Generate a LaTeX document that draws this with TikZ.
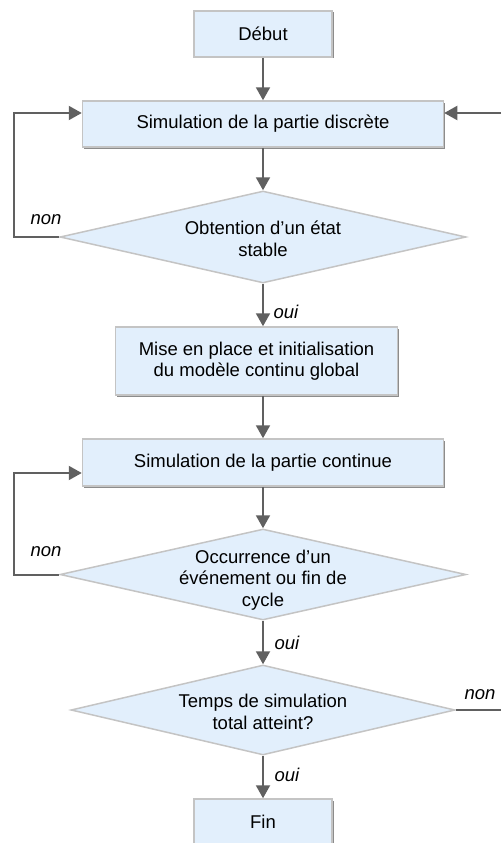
\documentclass[tikz,border=0pt]{standalone}
\usepackage{fontspec}
\setmainfont{Liberation Sans}
\usetikzlibrary{arrows.meta}
\usetikzlibrary{shapes.geometric}
\usetikzlibrary{shadows}
\definecolor{boxfill}{HTML}{E2EFFC}
\definecolor{boxborder}{HTML}{C4C4C4}
\definecolor{shadowgray}{HTML}{8C8C8C}
\definecolor{flowcolor}{HTML}{606060}
\newcommand{\chartfont}{\fontsize{18.5}{21.5}\selectfont}

\tikzset{
  process/.style={rectangle, draw=boxborder, line width=1.5pt, fill=boxfill, inner sep=0pt, align=center,
    drop shadow={fill=shadowgray, opacity=1, shadow xshift=1.5pt, shadow yshift=-1.5pt}},
  decision/.style={diamond, draw=boxborder, line width=1.5pt, fill=boxfill, inner sep=0pt},
  decisiontext/.style={align=center, inner sep=0pt},
  flow/.style={flowcolor, line width=2pt, -{Triangle[length=13pt,width=14pt]}},
  answer/.style={font=\chartfont\itshape, inner sep=0pt}
}

\begin{document}
\begin{tikzpicture}[x=1pt,y=-1pt,font=\chartfont]
\useasboundingbox (0,0) rectangle (501,843);
\clip (0,0) rectangle (501,843);

% boxes and decisions
\node[process, minimum width=138pt, minimum height=46pt] (start) at (263,34) {Début};
\node[process, minimum width=361pt, minimum height=46pt] (discrete) at (263,124) {Simulation de la partie discrète};
\node[decision, minimum width=406pt, minimum height=92pt] (d1) at (263,237) {};
\node[decisiontext] (d1text) at (263,239) {Obtention d’un état\\stable};
\node[process, minimum width=282pt, minimum height=68pt] (init) at (256.5,361) {Mise en place et initialisation\\du modèle continu global};
\node[process, minimum width=361pt, minimum height=47pt] (continuous) at (263,462.5) {Simulation de la partie continue};
\node[decision, minimum width=406pt, minimum height=91pt] (d2) at (263,574.5) {};
\node[decisiontext] (d2text) at (263,580) {Occurrence d’un\\événement ou fin de\\cycle};
\node[decision, minimum width=384pt, minimum height=90pt] (d3) at (263,710) {};
\node[decisiontext] (d3text) at (263,712) {Temps de simulation\\total atteint?};
\node[process, minimum width=138pt, minimum height=46pt] (finish) at (263,822) {Fin};

% main flow
\draw[flow] (start) -- (discrete);
\draw[flow] (discrete) -- (d1);
\draw[flow] (d1.south) -- (d1.south |- init.north);
\draw[flow] (d1.south |- init.south) -- (continuous.north);
\draw[flow] (continuous) -- (d2);
\draw[flow] (d2) -- (d3);
\draw[flow] (d3) -- (finish);

% loops
\coordinate (loopA) at (14,113);
\draw[flow] (d1.west) -| (loopA) -- (loopA -| discrete.west);
\coordinate (loopB) at (14,473);
\draw[flow] (d2.west) -| (loopB) -- (loopB -| continuous.west);
\coordinate (edgeA) at (501,113);
\draw[flow] (edgeA) -- (edgeA -| discrete.east);
\coordinate (edgeB) at (501,710);
\draw[flow,-] (d3.east) -- (edgeB);

% answers
\node[answer] (non1) at (46,220) {non};
\node[answer] (oui1) at (286,312) {oui};
\node[answer] (non2) at (46,552) {non};
\node[answer] (oui2) at (287,643) {oui};
\node[answer] (non3) at (480,695) {non};
\node[answer] (oui3) at (287,775) {oui};
\end{tikzpicture}
\end{document}
